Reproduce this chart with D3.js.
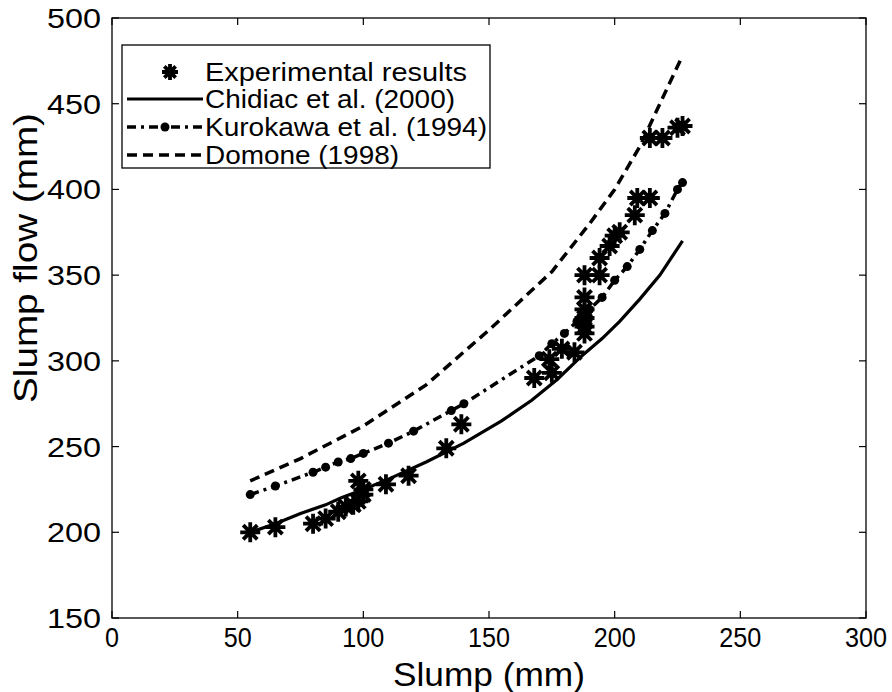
<!DOCTYPE html>
<html><head><meta charset="utf-8">
<script src="https://cdn.jsdelivr.net/npm/d3@7"></script>
<style>body{margin:0;background:#fff}svg{display:block}text{font-family:"Liberation Sans",Arial,sans-serif;fill:#000}</style>
</head><body><svg id="c" width="892" height="692"></svg>
<script>
// Data
const expX = [55,65,80,85,90,93,96,98,100,100,98,109,118,133,139,168,175,174,179,184,188,188,188,188,188,188,194,194,198,200,202,208,209,214,214,219,225,227];
const expY = [200,203,205,208,212,215,216,218,222,225,230,228,233,249,263,290,293,301,307,305,316,320,325,330,337,350,350,360,367,373,375,385,395,395,430,430,436,437];
const chiX = [55,65,75,85,91,100,110,125,140,155,167,177,187,195,202,210,218,227];
const chiY = [200,205,211,216,220,225,231,241,252,265,277,289,303,313,323,336,350,370];
const kurX = [55,65,80,85,90,95,100,110,120,135,140,170,175,180,185,190,195,200,205,210,215,220,225,227];
const kurY = [222,227,235,238,241,243,246,252,259,271,275,303,310,316,323,330,337,347,355,365,376,386,400,404];
const domX = [55,75,100,125,150,175,190,200,210,218,227];
const domY = [230,243,262,286,318,352,380,400,425,450,478];
const xTicks = [0,50,100,150,200,250,300];
const yTicks = [150,200,250,300,350,400,450,500];
const legendLabels = ["Experimental results","Chidiac et al. (2000)","Kurokawa et al. (1994)","Domone (1998)"];

const svg = d3.select("#c");
const L=112,R=866,T=18,B=618;
const x = d3.scaleLinear().domain([0,300]).range([L,R]);
const y = d3.scaleLinear().domain([150,500]).range([B,T]);

// frame
svg.append("rect").attr("x",L).attr("y",T).attr("width",R-L).attr("height",B-T)
  .attr("fill","none").attr("stroke","#000").attr("stroke-width",1.3);
const tl=7;
const g = svg.append("g");
xTicks.forEach(v=>{
  g.append("line").attr("x1",x(v)).attr("x2",x(v)).attr("y1",B).attr("y2",B-tl).attr("stroke","#000").attr("stroke-width",1.2);
  g.append("line").attr("x1",x(v)).attr("x2",x(v)).attr("y1",T).attr("y2",T+tl).attr("stroke","#000").attr("stroke-width",1.2);
  g.append("text").attr("x",x(v)).attr("y",B+29).attr("text-anchor","middle")
    .attr("font-size",28).attr("textLength",String(v).length*14).attr("lengthAdjust","spacingAndGlyphs").text(v);
});
yTicks.forEach(v=>{
  g.append("line").attr("x1",L).attr("x2",L+tl).attr("y1",y(v)).attr("y2",y(v)).attr("stroke","#000").attr("stroke-width",1.2);
  g.append("line").attr("x1",R).attr("x2",R-tl).attr("y1",y(v)).attr("y2",y(v)).attr("stroke","#000").attr("stroke-width",1.2);
  g.append("text").attr("x",101).attr("y",y(v)+10).attr("text-anchor","end")
    .attr("font-size",27).attr("textLength",String(v).length*18).attr("lengthAdjust","spacingAndGlyphs").text(v);
});
svg.append("text").attr("x",(L+R)/2).attr("y",686).attr("text-anchor","middle").attr("font-size",33)
  .attr("textLength",192).attr("lengthAdjust","spacingAndGlyphs").text("Slump (mm)");
svg.append("text").attr("transform",`translate(37,${(T+B)/2-60}) rotate(-90)`).attr("text-anchor","middle").attr("font-size",33)
  .attr("textLength",290).attr("lengthAdjust","spacingAndGlyphs").text("Slump flow (mm)");

const line = d3.line().x(d=>x(d[0])).y(d=>y(d[1]));
const chi = chiX.map((v,i)=>[v,chiY[i]]);
const kur = kurX.map((v,i)=>[v,kurY[i]]);
const dom = domX.map((v,i)=>[v,domY[i]]);
svg.append("path").attr("d",line(dom)).attr("fill","none").attr("stroke","#000").attr("stroke-width",3.5).attr("stroke-dasharray","10,6");
svg.append("path").attr("d",line(kur)).attr("fill","none").attr("stroke","#000").attr("stroke-width",3.5).attr("stroke-dasharray","9,5,3,5");
svg.selectAll(".kd").data(kur).enter().append("circle").attr("cx",d=>x(d[0])).attr("cy",d=>y(d[1])).attr("r",4.5).attr("fill","#000");
svg.append("path").attr("d",line(chi)).attr("fill","none").attr("stroke","#000").attr("stroke-width",3.2);

function star(sel,cx,cy,r){
  const a=r*0.7071;
  sel.append("path").attr("d",`M${cx-r},${cy}L${cx+r},${cy}M${cx},${cy-r}L${cx},${cy+r}M${cx-a},${cy-a}L${cx+a},${cy+a}M${cx-a},${cy+a}L${cx+a},${cy-a}`)
    .attr("stroke","#000").attr("stroke-width",3.8).attr("fill","none");
}
const sg = svg.append("g");
expX.forEach((v,i)=>star(sg,x(v),y(expY[i]),10));

// legend
const lg = svg.append("g");
lg.append("rect").attr("x",122).attr("y",45).attr("width",368).attr("height",123).attr("fill","#fff").attr("stroke","#000").attr("stroke-width",1.3);
const ly=[72,99,127,155];
const lw=[262,250,282,194];
legendLabels.forEach((t,i)=>{
  lg.append("text").attr("x",205).attr("y",ly[i]+9).attr("font-size",25)
    .attr("textLength",lw[i]).attr("lengthAdjust","spacingAndGlyphs").text(t);
});
star(lg,170,ly[0],8);
lg.append("line").attr("x1",127).attr("x2",203).attr("y1",ly[1]).attr("y2",ly[1]).attr("stroke","#000").attr("stroke-width",3.2);
lg.append("line").attr("x1",127).attr("x2",203).attr("y1",ly[2]).attr("y2",ly[2]).attr("stroke","#000").attr("stroke-width",3.5).attr("stroke-dasharray","9,5,3,5");
lg.append("circle").attr("cx",165).attr("cy",ly[2]).attr("r",4.5);
lg.append("line").attr("x1",127).attr("x2",203).attr("y1",ly[3]).attr("y2",ly[3]).attr("stroke","#000").attr("stroke-width",3.5).attr("stroke-dasharray","10,6");
</script></body></html>
